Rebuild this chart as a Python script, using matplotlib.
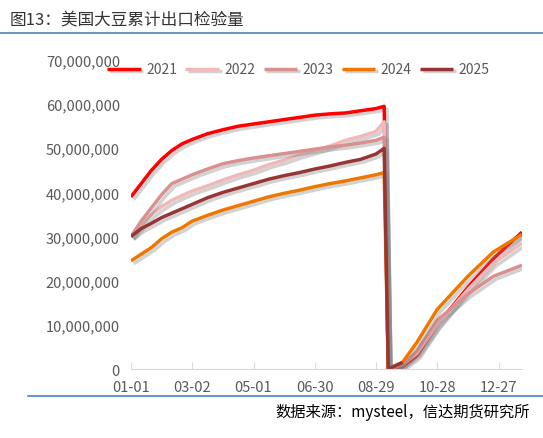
import matplotlib
matplotlib.use("Agg")
import matplotlib.pyplot as plt
import matplotlib.patheffects as pe
from matplotlib.ticker import FuncFormatter, MultipleLocator

plt.rcParams['font.family'] = ['Noto Sans CJK SC', 'DejaVu Sans']

tick_pos = [0, 60, 120, 180, 240, 300, 360]
tick_labels = ["01-01", "03-02", "05-01", "06-30", "08-29", "10-28", "12-27"]

days_pre = [0, 10, 20, 30, 40, 50, 60, 75, 90, 105, 120, 135, 150, 165, 180, 195, 210, 225, 240, 248]
s2021_pre = [39, 42, 45, 47.5, 49.5, 51, 52, 53.3, 54.2, 55, 55.5, 56, 56.5, 57, 57.5, 57.8, 58, 58.5, 59, 59.5]
s2022_pre = [30, 32.5, 35, 36.8, 38.2, 39.3, 40.3, 41.5, 42.8, 44, 45, 46.3, 47.3, 48.5, 49.5, 50.5, 51.8, 52.7, 53.8, 56]
s2023_pre = [30, 33.5, 36.5, 39.5, 42, 43, 44, 45.3, 46.5, 47.2, 47.8, 48.3, 48.8, 49.3, 49.8, 50.3, 50.7, 51.2, 51.8, 52.5]
s2024_pre = [24.5, 26, 27.5, 29.5, 31, 32, 33.5, 34.8, 36, 37, 38, 39, 39.8, 40.5, 41.3, 42, 42.6, 43.3, 44, 44.5]
s2025_pre = [30, 31.8, 33, 34.3, 35.3, 36.3, 37.3, 38.8, 40, 41, 42, 43, 43.8, 44.5, 45.3, 46, 46.8, 47.5, 48.7, 50]

days_post = [252, 266, 280, 300, 330, 355, 383]
s2021_post = [0, 0.5, 3, 10, 18.5, 25, 31]
s2022_post = [0, 1, 3.5, 10, 18, 24, 28.5]
s2023_post = [0, 1, 4, 11, 17, 21, 23.5]
s2024_post = [0, 1.5, 6, 13.5, 21, 26.5, 30.5]
days_2025_post = [252, 266]
s2025_post = [0, 1.5]

series = [
    ("2021", s2021_pre, s2021_post, days_post, "#ff0000"),
    ("2022", s2022_pre, s2022_post, days_post, "#f0b8b8"),
    ("2023", s2023_pre, s2023_post, days_post, "#d99090"),
    ("2024", s2024_pre, s2024_post, days_post, "#ee7700"),
    ("2025", s2025_pre, s2025_post, days_2025_post, "#963634"),
]

fig = plt.figure(figsize=(5.43, 4.39), dpi=100)
ax = fig.add_axes([131/543, 1-370/439, (522-131)/543, (370-61)/439])
shadow = [pe.SimpleLineShadow(offset=(2, -2), shadow_color='gray', alpha=0.35), pe.Normal()]
for name, pre, post, dpost, c in series:
    xs = days_pre + dpost
    ys = [v * 1e6 for v in pre + post]
    ax.plot(xs, ys, color=c, lw=2.5, label=name, path_effects=shadow, solid_capstyle='butt')

ax.set_xlim(0, 383)
ax.set_ylim(0, 70e6)
ax.yaxis.set_major_locator(MultipleLocator(10e6))
ax.yaxis.set_major_formatter(FuncFormatter(lambda v, p: f"{int(v):,}"))
ax.set_xticks(tick_pos)
ax.set_xticklabels(tick_labels)
for s in ['top', 'right', 'left']:
    ax.spines[s].set_visible(False)
ax.spines['bottom'].set_color('#d9d9d9')
ax.tick_params(axis='y', length=0, labelsize=10.5, colors='#595959', pad=8)
ax.tick_params(axis='x', length=5, color='#d9d9d9', labelsize=10.5, colors='#595959', direction='in', pad=8)

leg = ax.legend(ncol=5, loc='upper left', bbox_to_anchor=(-0.075, 1.01), frameon=False,
                handlelength=2.4, columnspacing=0.6, handletextpad=0.4, fontsize=10, borderaxespad=0)
for t in leg.get_texts():
    t.set_color('#595959')

fig.text(10/543, 1-20/439, "图13：美国大豆累计出口检验量", fontsize=12, va='center', ha='left', color='#333333')
fig.add_artist(plt.Line2D([0, 1], [1-34/439, 1-34/439], color='#4f81bd', lw=1.2))
fig.add_artist(plt.Line2D([28/543, 1], [1-397/439, 1-397/439], color='#4f81bd', lw=1.2))
fig.text(530/543, 1-412/439, "数据来源：mysteel，信达期货研究所", fontsize=11, va='center', ha='right',
         style='italic', color='#000000')

fig.savefig("out.png", dpi=100)
